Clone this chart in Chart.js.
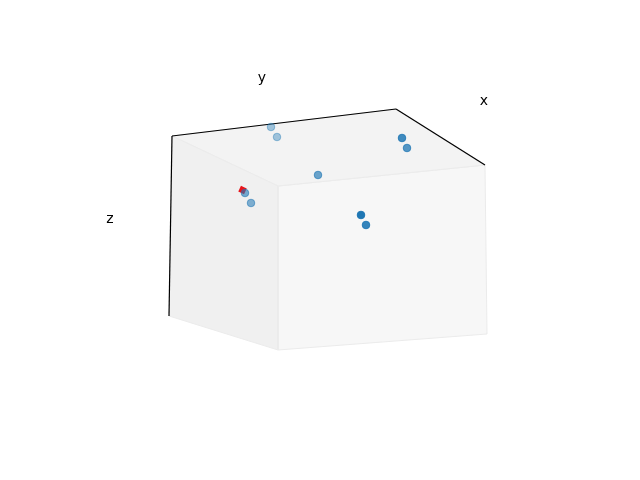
<!DOCTYPE html>
<html>
<head>
<meta charset="utf-8">
<script src="https://cdn.jsdelivr.net/npm/chart.js@4.4.1/dist/chart.umd.min.js"></script>
<style>
html,body{margin:0;padding:0;background:#fff;}
#wrap{width:640px;height:480px;}
</style>
</head>
<body>
<div id="wrap"><canvas id="c" width="640" height="480"></canvas></div>
<script>
// Projected (screen-plane) coordinates of the 3D scatter
const pointX = [271, 277, 402, 407, 318, 245, 251, 361, 366];
const pointY = [127, 137, 138, 148, 175, 193, 203, 215, 225];
const pointAlpha = [0.4, 0.4, 0.85, 0.75, 0.65, 0.6, 0.55, 1.0, 0.9];
const markerX = [242.5];
const markerY = [190];

// Box corners in projected coordinates
const cornerNames = ['A', 'B', 'C', 'D', 'E', 'F', 'G'];
const cornerX = [172, 396, 485, 278, 169, 278, 487];
const cornerY = [136, 109, 165, 186, 316, 350, 334];

// Panes (by corner names)
const paneLeft = ['A', 'D', 'F', 'E', 'A'];
const paneTop = ['A', 'B', 'C', 'D', 'A'];
const paneFront = ['D', 'C', 'G', 'F', 'D'];
// Axis lines
const axisZ = ['A', 'E'];
const axisY = ['A', 'B'];
const axisX = ['B', 'C'];

// Axis labels
const labelText = ['y', 'x', 'z'];
const labelX = [262, 484, 110];
const labelY = [78, 101, 219];

function corner(n) {
  const i = cornerNames.indexOf(n);
  return {x: cornerX[i], y: cornerY[i]};
}
function path(names) { return names.map(corner); }

const blue = [31, 119, 180];
const rgba = (c, a) => `rgba(${c[0]},${c[1]},${c[2]},${a})`;

const points = pointX.map((x, i) => ({x, y: pointY[i]}));

function pane(names, fillCol) {
  return {
    data: path(names), showLine: true, fill: 'shape',
    backgroundColor: fillCol, borderColor: '#ebebeb', borderWidth: 1,
    pointRadius: 0, order: 4
  };
}
function axisLine(names) {
  return {
    data: path(names), showLine: true, fill: false,
    borderColor: '#000000', borderWidth: 1.2, pointRadius: 0, order: 3
  };
}

const labelPlugin = {
  id: 'axisLabels',
  afterDraw(chart) {
    const ctx = chart.ctx;
    const sx = chart.scales.x, sy = chart.scales.y;
    ctx.save();
    ctx.fillStyle = '#000';
    ctx.font = '14px "DejaVu Sans"';
    ctx.textAlign = 'center';
    ctx.textBaseline = 'middle';
    labelText.forEach((t, i) => {
      ctx.fillText(t, sx.getPixelForValue(labelX[i]), sy.getPixelForValue(labelY[i]));
    });
    ctx.restore();
  }
};

new Chart(document.getElementById('c'), {
  type: 'scatter',
  data: {
    datasets: [
      {
        data: points,
        pointRadius: 3.8,
        pointBorderWidth: 1,
        pointBackgroundColor: pointAlpha.map(a => rgba(blue, a)),
        pointBorderColor: pointAlpha.map(a => rgba(blue, a)),
        showLine: false,
        order: 1
      },
      {
        data: markerX.map((x, i) => ({x, y: markerY[i]})),
        pointStyle: 'rect', rotation: 25,
        pointRadius: 4.5, pointBorderWidth: 0,
        pointBackgroundColor: '#e8151b', pointBorderColor: '#e8151b',
        showLine: false, order: 2
      },
      axisLine(axisZ), axisLine(axisY), axisLine(axisX),
      pane(paneLeft, '#f0f0f0'),
      pane(paneTop, '#f3f3f3'),
      pane(paneFront, '#f7f7f7')
    ]
  },
  options: {
    responsive: false,
    devicePixelRatio: 1,
    animation: false,
    layout: {padding: 0, autoPadding: false},
    scales: {
      x: {type: 'linear', min: 0, max: 640, display: false},
      y: {type: 'linear', min: 0, max: 480, reverse: true, display: false}
    },
    plugins: {legend: {display: false}, tooltip: {enabled: false}, title: {display: false}}
  },
  plugins: [labelPlugin]
});
</script>
</body>
</html>
